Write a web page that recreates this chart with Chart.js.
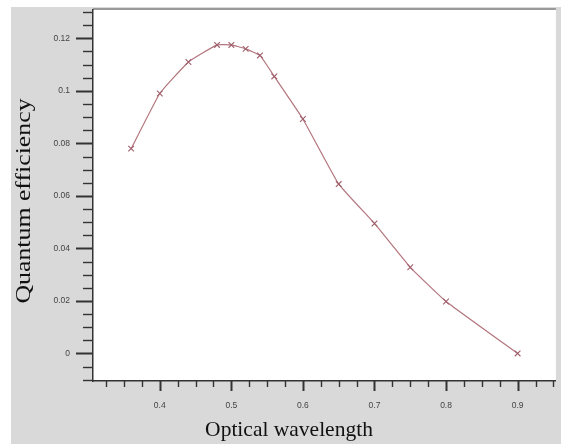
<!DOCTYPE html>
<html>
<head>
<meta charset="utf-8">
<script src="https://cdn.jsdelivr.net/npm/chart.js@4/dist/chart.umd.min.js"></script>
<style>
  html, body { margin: 0; padding: 0; background: #fff; }
  #wrap { width: 561px; height: 444px; position: relative; }
</style>
</head>
<body>
<div id="wrap"><canvas id="chart" width="561" height="444"></canvas></div>
<script>
// Data
const wavelengths = [0.36, 0.40, 0.44, 0.48, 0.50, 0.52, 0.54, 0.56, 0.60, 0.65, 0.70, 0.75, 0.80, 0.90];
const efficiency  = [0.078, 0.099, 0.111, 0.1175, 0.1175, 0.116, 0.1135, 0.1055, 0.0893, 0.0645, 0.0495, 0.0328, 0.0198, 0.0];

const xTicks = [0.4, 0.5, 0.6, 0.7, 0.8, 0.9];
const xTickLabels = ['0.4', '0.5', '0.6', '0.7', '0.8', '0.9'];
const yTicks = [0, 0.02, 0.04, 0.06, 0.08, 0.1, 0.12];
const yTickLabels = ['0', '0.02', '0.04', '0.06', '0.08', '0.1', '0.12'];

const xTitle = 'Optical wavelength';
const yTitle = 'Quantum efficiency';

const lineColor = '#b3757e';
const pointColor = '#a0606c';
const axisColor = '#333';
const tickFont = { family: 'Liberation Sans, Arial, sans-serif', size: 8.5 };
const titleFont = '21.5px "Liberation Serif", "Times New Roman", serif';

// background, minor/major ticks and axis titles
const frame = {
    id: 'frame',
    beforeDraw(chart) {
        const { ctx, chartArea: a } = chart;
        ctx.save();
        ctx.fillStyle = '#fff';
        ctx.fillRect(0, 0, chart.width, chart.height);
        ctx.fillStyle = '#d9d9d9';
        ctx.fillRect(11, 7, chart.width - 11, chart.height - 7);
        ctx.fillStyle = '#fff';
        ctx.fillRect(a.left, a.top, a.right - a.left, a.bottom - a.top);
        ctx.fillStyle = '#9a9a9a';
        ctx.fillRect(a.left, a.top - 2, a.right - a.left, 2);
        ctx.restore();
    },
    afterDraw(chart) {
        const { ctx, chartArea: a, scales: { x, y } } = chart;
        ctx.save();
        ctx.strokeStyle = axisColor;
        // y ticks every 0.005, major every 0.02
        for (let i = -2; i <= 26; i++) {
            const py = Math.round(y.getPixelForValue(i * 0.005)) + 0.5;
            if (py < a.top - 1 || py > a.bottom + 1) continue;
            const major = i % 4 === 0;
            ctx.lineWidth = major ? 2 : 1.4;
            ctx.beginPath();
            ctx.moveTo(a.left - (major ? 17 : 10), py);
            ctx.lineTo(a.left, py);
            ctx.stroke();
        }
        // x ticks every 0.025, major every 0.1
        for (let i = 13; i <= 38; i++) {
            const px = Math.round(x.getPixelForValue(i * 0.025)) + 0.5;
            if (px < a.left + 2 || px > a.right) continue;
            const major = i % 4 === 0;
            ctx.lineWidth = major ? 2 : 1.4;
            ctx.beginPath();
            ctx.moveTo(px, a.bottom);
            ctx.lineTo(px, a.bottom + (major ? 10 : 6));
            ctx.stroke();
        }
        // axis titles
        ctx.fillStyle = '#111';
        ctx.font = titleFont;
        ctx.textAlign = 'center';
        ctx.textBaseline = 'middle';
        ctx.fillText(xTitle, 289, 430);
        ctx.translate(24, 201);
        ctx.rotate(-Math.PI / 2);
        ctx.scale(1.2, 1);
        ctx.fillText(yTitle, 0, 0);
        ctx.restore();
    }
};

new Chart(document.getElementById('chart'), {
    type: 'scatter',
    data: {
        datasets: [{
            data: wavelengths.map((w, i) => ({ x: w, y: efficiency[i] })),
            showLine: true,
            borderColor: lineColor,
            borderWidth: 1.2,
            pointStyle: 'crossRot',
            pointRadius: 4,
            pointBorderWidth: 1.1,
            pointBorderColor: pointColor,
            tension: 0.1
        }]
    },
    options: {
        responsive: false,
        animation: false,
        layout: { padding: { top: 10, right: 1, left: 0, bottom: 0 } },
        plugins: { legend: { display: false }, tooltip: { enabled: false } },
        scales: {
            x: {
                type: 'linear',
                min: 0.3067,
                max: 0.9535,
                afterBuildTicks: s => { s.ticks = xTicks.map(v => ({ value: v })); },
                afterFit: s => { s.height = 63; s.paddingLeft = 0; s.paddingRight = 0; },
                grid: { display: false, drawTicks: false },
                border: { display: true, color: axisColor, width: 1.5 },
                ticks: {
                    padding: 20,
                    color: '#444',
                    font: tickFont,
                    maxRotation: 0,
                    callback: (v, i) => xTickLabels[i]
                }
            },
            y: {
                min: -0.0105,
                max: 0.1308,
                afterBuildTicks: s => { s.ticks = yTicks.map(v => ({ value: v })); },
                afterFit: s => { s.width = 93; s.paddingTop = 0; s.paddingBottom = 0; },
                grid: { display: false, drawTicks: false },
                border: { display: true, color: axisColor, width: 1.5 },
                ticks: {
                    padding: 23,
                    color: '#444',
                    font: tickFont,
                    callback: (v, i) => yTickLabels[i]
                }
            }
        }
    },
    plugins: [frame]
});
</script>
</body>
</html>
